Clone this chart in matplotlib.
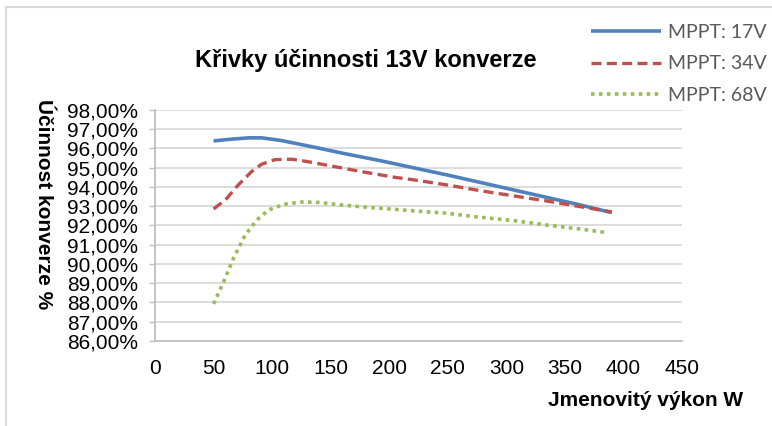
import matplotlib
matplotlib.use('Agg')
import matplotlib.pyplot as plt
from matplotlib.ticker import FuncFormatter, MultipleLocator
from matplotlib.lines import Line2D

# Data (efficiency in %)
power_17v = [50, 63, 80, 91, 108, 134, 162, 192, 249, 306, 363, 390]
eff_17v = [96.38, 96.46, 96.54, 96.54, 96.40, 96.08, 95.72, 95.36, 94.62, 93.84, 93.06, 92.66]

power_34v = [50, 60, 71, 82.5, 91, 102.5, 117, 131, 154, 176, 205, 221, 249, 277.5, 306, 334, 363, 390]
eff_34v = [92.85, 93.31, 94.09, 94.79, 95.17, 95.41, 95.43, 95.30, 95.04, 94.79, 94.49, 94.36,
           94.10, 93.80, 93.53, 93.27, 92.97, 92.70]

power_68v = [50, 58, 67, 77, 87, 97, 110, 125, 140, 159, 182, 205, 221, 249, 277.5, 306, 334, 363, 386]
eff_68v = [87.92, 88.99, 90.29, 91.50, 92.28, 92.80, 93.09, 93.21, 93.19, 93.06, 92.93, 92.83,
           92.75, 92.63, 92.42, 92.25, 92.02, 91.81, 91.62]

series_labels = ['MPPT: 17V', 'MPPT: 34V', 'MPPT: 68V']
title = 'Křivky účinnosti 13V konverze'
xlabel = 'Jmenovitý výkon W'
ylabel = 'Účinnost konverze %'

W, H = 772, 426
plt.rcParams['font.family'] = ['Liberation Sans', 'DejaVu Sans']

fig = plt.figure(figsize=(W / 100, H / 100), dpi=100)
ax = fig.add_axes([155 / W, 1 - 341 / H, (682 - 155) / W, (341 - 109.7) / H])

# chart frame (light grey border, cut off at right/bottom)
fig.add_artist(Line2D([6 / W, 1], [1 - 7 / H, 1 - 7 / H], color='#D9D9D9', lw=1.5))
fig.add_artist(Line2D([6 / W, 6 / W], [0, 1 - 7 / H], color='#D9D9D9', lw=1.5))

ax.plot(power_17v, eff_17v, color='#4F81BD', lw=2.6, solid_capstyle='butt', label=series_labels[0])
ax.plot(power_34v, eff_34v, color='#C0504D', lw=2.4, linestyle=(0, (3.0, 1.6)),
        dash_capstyle='butt', label=series_labels[1])
ax.plot(power_68v, eff_68v, color='#9BBB59', lw=2.6, linestyle=(0, (1.0, 1.2)),
        dash_capstyle='butt', label=series_labels[2])

ax.set_xlim(0, 450)
ax.set_ylim(86, 98)
ax.xaxis.set_major_locator(MultipleLocator(50))
ax.yaxis.set_major_locator(MultipleLocator(1))
ax.yaxis.set_major_formatter(FuncFormatter(lambda v, p: ('%.2f%%' % v).replace('.', ',')))

ax.grid(axis='y', color='#D9D9D9', lw=1.3)
ax.set_axisbelow(True)
for s in ['top', 'right']:
    ax.spines[s].set_visible(False)
for s in ['left', 'bottom']:
    ax.spines[s].set_color('#BFBFBF')
    ax.spines[s].set_linewidth(1.3)

ax.tick_params(axis='y', length=4, width=1, color='#BFBFBF', pad=8, labelsize=15)
ax.tick_params(axis='x', length=0, pad=13, labelsize=15)

fig.text(366 / W, 1 - 61 / H, title, ha='center', va='center', fontsize=17, fontweight='bold')
fig.text(43 / W, 1 - 204 / H, ylabel, ha='center', va='center', rotation=270,
         fontsize=15, fontweight='bold')
fig.text(743 / W, 1 - 401 / H, xlabel, ha='right', va='center', fontsize=15, fontweight='bold')

leg = fig.legend(loc='upper left', bbox_to_anchor=(591 / W, 1 - 24 / H), frameon=False,
                 borderpad=0, borderaxespad=0, handlelength=3.6, handletextpad=0.36,
                 labelspacing=0.74, prop={'family': 'Lato', 'size': 14})
for t in leg.get_texts():
    t.set_color('#595959')

fig.savefig('out.png', dpi=100)
